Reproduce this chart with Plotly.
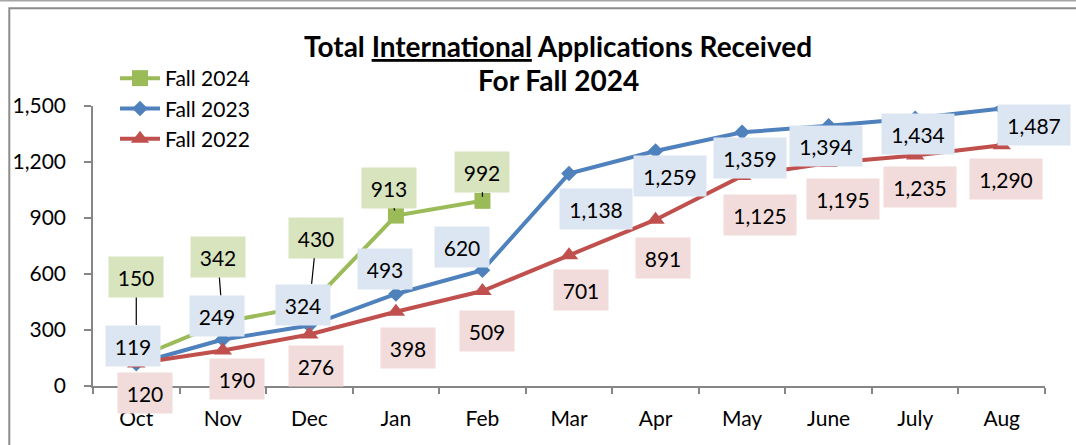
import plotly.graph_objects as go

# ---------------- data ----------------
months = ["Oct", "Nov", "Dec", "Jan", "Feb", "Mar", "Apr", "May", "June", "July", "Aug"]
fall_2024 = [150, 342, 430, 913, 992]
fall_2023 = [119, 249, 324, 493, 620, 1138, 1259, 1359, 1394, 1434, 1487]
fall_2022 = [120, 190, 276, 398, 509, 701, 891, 1125, 1195, 1235, 1290]
y_ticks = [0, 300, 600, 900, 1200, 1500]

# ---------------- label placement (pixel offsets of box centre from point) ----------------
off_2024 = [(0, -81), (-5, -65), (7, -68), (-7, -28), (0, -29)]
lead_standoff_2024 = [33, 27, 22, 5, 4]
off_2023 = [(-3, -18), (-6, -24), (-6, -21), (-11, -25), (-20, -23), (27, 35),
            (14, 25), (8, 26), (-3, 20), (3, 16), (32, 17)]
off_2022 = [(9, 29), (14, 28), (7, 32), (12, 36), (5, 40), (12, 35),
            (7, 38), (18, 39), (14, 36), (5, 32), (4, 34)]

# ---------------- geometry / style ----------------
W, H = 1076, 445
L, R, T, B = 93, 31, 106, 59
PW, PH = W - L - R, H - T - B
FONT = "Lato, 'Open Sans', sans-serif"

def px_x(p):
    return (p - L) / PW

def px_y(p):
    return (H - B - p) / PH

GREEN, BLUE, RED = "#9BBB59", "#4F81BD", "#C0504D"
GREEN_BG, BLUE_BG, RED_BG = "#D7E4BD", "#DCE6F2", "#F2DCDB"

fig = go.Figure()
fig.add_trace(go.Scatter(x=months[:len(fall_2024)], y=fall_2024, name="Fall 2024",
                         mode="lines+markers", line=dict(color=GREEN, width=4),
                         marker=dict(symbol="square", size=16, color=GREEN)))
fig.add_trace(go.Scatter(x=months, y=fall_2023, name="Fall 2023",
                         mode="lines+markers", line=dict(color=BLUE, width=4),
                         marker=dict(symbol="diamond", size=12, color=BLUE)))
fig.add_trace(go.Scatter(x=months, y=fall_2022, name="Fall 2022",
                         mode="lines+markers", line=dict(color=RED, width=4),
                         marker=dict(symbol="triangle-up", size=16, color=RED)))

annotations = []

def box_w(txt):
    return 42 if len(txt) <= 3 else 60

def add_labels(values, offsets, bg, standoffs=None):
    for i, v in enumerate(values):
        txt = f"{v:,}"
        dx, dy = offsets[i]
        common = dict(x=months[i], y=v, xref="x", yref="y", text=txt,
                      font=dict(family=FONT, size=21, color="black"),
                      bgcolor=bg, borderpad=6, width=box_w(txt), height=28)
        if standoffs is not None:
            annotations.append(dict(**common, showarrow=True, ax=dx, ay=dy,
                                    arrowhead=0, arrowwidth=1.2, arrowcolor="black",
                                    standoff=standoffs[i]))
        else:
            annotations.append(dict(**common, showarrow=False, xshift=dx, yshift=-dy))

add_labels(fall_2022, off_2022, RED_BG)
add_labels(fall_2023, off_2023, BLUE_BG)
add_labels(fall_2024, off_2024, GREEN_BG, lead_standoff_2024)

# title (two lines)
TITLE_FONT = dict(family=FONT, size=28, color="black")
annotations.append(dict(x=px_x(558), y=px_y(46), xref="paper", yref="paper",
                        text="<b>Total <u>International</u> Applications Received</b>",
                        showarrow=False, xanchor="center", yanchor="middle",
                        font=TITLE_FONT))
annotations.append(dict(x=px_x(558), y=px_y(80), xref="paper", yref="paper",
                        text="<b>For Fall 2024</b>",
                        showarrow=False, xanchor="center", yanchor="middle",
                        font=TITLE_FONT))

shapes = [
    # outer frame line
    dict(type="line", xref="paper", yref="paper", x0=px_x(-5), x1=px_x(W + 5),
         y0=px_y(0.8), y1=px_y(0.8), line=dict(color="#A6A6A6", width=1.6)),
    # chart area border
    dict(type="rect", xref="paper", yref="paper", x0=px_x(9.3), x1=px_x(W + 20),
         y0=px_y(H + 20), y1=px_y(8.2), line=dict(color="#8C8C8C", width=2),
         fillcolor="rgba(0,0,0,0)"),
]

fig.update_layout(
    width=W, height=H,
    margin=dict(l=L, r=R, t=T, b=B, autoexpand=False),
    paper_bgcolor="white", plot_bgcolor="white",
    font=dict(family=FONT, size=21, color="black"),
    showlegend=True,
    legend=dict(x=px_x(115), y=px_y(58), xanchor="left", yanchor="top",
                bgcolor="rgba(0,0,0,0)", font=dict(family=FONT, size=21, color="black"),
                itemwidth=40),
    xaxis=dict(type="category", categoryorder="array", categoryarray=months,
               range=[-0.5, len(months) - 0.5], showgrid=False, zeroline=False,
               showline=True, linecolor="#868686", linewidth=1.5,
               ticks="outside", tickson="boundaries", ticklen=6, tickcolor="#868686",
               tickwidth=1.5, ticklabelstandoff=13, automargin=False,
               tickfont=dict(family=FONT, size=21, color="black")),
    yaxis=dict(range=[0, 1500], tickvals=y_ticks, tickformat=",", showgrid=False,
               zeroline=False, showline=True, linecolor="#868686", linewidth=1.5,
               ticks="outside", ticklen=7, tickcolor="#868686", tickwidth=1.5,
               ticklabelstandoff=14, automargin=False,
               tickfont=dict(family=FONT, size=21, color="black")),
    annotations=annotations,
    shapes=shapes,
)

fig.write_html("out.html", config={"displayModeBar": False},
               post_script="document.body.style.margin='0';document.body.style.padding='0';"
                           "document.documentElement.style.overflow='hidden';")
